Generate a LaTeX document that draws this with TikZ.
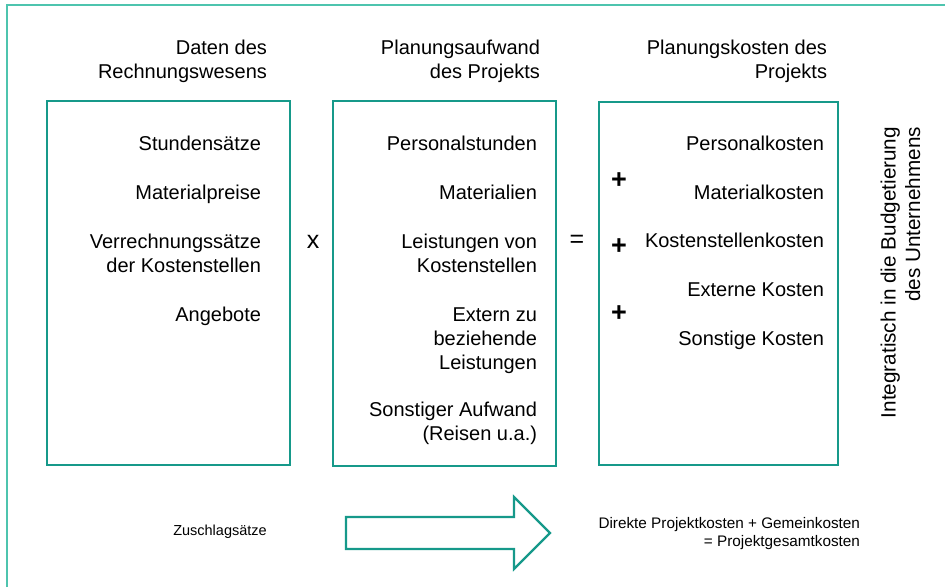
\documentclass[tikz,border=0pt]{standalone}
\usepackage{fontspec}
\setmainfont{Liberation Sans}
\definecolor{boxteal}{HTML}{16998A}
\definecolor{frameteal}{HTML}{4EC4AE}
\begin{document}
\begin{tikzpicture}[x=1pt,y=-1pt,
  every node/.style={inner sep=0pt, outer sep=0pt},
  bigtxt/.style={font=\fontsize{20}{24}\selectfont, align=right, anchor=base east},
  smalltxt/.style={font=\fontsize{14.5}{18}\selectfont},
  opsign/.style={font=\fontsize{25}{26}\selectfont},
  plussign/.style={font=\fontsize{27}{28}\selectfont\bfseries},
  colbox/.style={draw=boxteal, line width=2.4pt},
  frameline/.style={draw=frameteal, line width=2pt}]
\useasboundingbox (0,0) rectangle (945,587);
% outer frame
\draw[frameline] (6.5,587) -- (6.5,5) -- (945,5);
% boxes
\node[colbox, minimum width=243pt, minimum height=364pt, anchor=north west] (b1) at (47,101) {};
\node[colbox, minimum width=223pt, minimum height=365pt, anchor=north west] (b2) at (333,101) {};
\node[colbox, minimum width=239pt, minimum height=363pt, anchor=north west] (b3) at (599,102) {};
% titles
\node[bigtxt] (t1) at (267,78) {Daten des\\Rechnungswesens};
\node[bigtxt] (t2) at (540,78) {Planungsaufwand\\des Projekts};
\node[bigtxt] (t3) at (827,78) {Planungskosten des\\Projekts};
% box 1
\node[bigtxt] (a1) at (261,150) {Stundensätze};
\node[bigtxt] (a2) at (261,199) {Materialpreise};
\node[bigtxt] (a3) at (261,272) {Verrechnungssätze\\der Kostenstellen};
\node[bigtxt] (a4) at (261,321) {Angebote};
% box 2
\node[bigtxt] (p1) at (537,150) {Personalstunden};
\node[bigtxt] (p2) at (537,199) {Materialien};
\node[bigtxt] (p3) at (537,272) {Leistungen von\\Kostenstellen};
\node[bigtxt] (p4) at (537,369) {Extern zu\\beziehende\\Leistungen};
\node[bigtxt] (p5) at (537,440) {Sonstiger Aufwand\\(Reisen u.a.)};
% box 3
\node[bigtxt] (k1) at (824,150) {Personalkosten};
\node[bigtxt] (k2) at (824,199) {Materialkosten};
\node[bigtxt] (k3) at (824,247) {Kostenstellenkosten};
\node[bigtxt] (k4) at (824,296) {Externe Kosten};
\node[bigtxt] (k5) at (824,345) {Sonstige Kosten};
% operators
\node[opsign] (mul) at (313,242) {x};
\node[opsign] (eq) at (577,241) {=};
\node[plussign] (pl1) at (619,181) {+};
\node[plussign] (pl2) at (619,247) {+};
\node[plussign] (pl3) at (619,314) {+};
% rotated text
\node[bigtxt, font=\fontsize{20.7}{24.5}\selectfont, rotate=90] (integ) at (920,127) {Integratisch in die Budgetierung\\des Unternehmens};
% bottom
\node[smalltxt] (zu) at (220,532) {Zuschlagsätze};
\draw[colbox, line width=2.2pt, line join=miter] (346,517) -- (514,517) -- (514,497) -- (550,533) -- (514,569) -- (514,549) -- (346,549) -- cycle;
\node[smalltxt, font=\fontsize{15.3}{18}\selectfont, align=right, anchor=base east] (dk) at (860,546) {Direkte Projektkosten + Gemeinkosten\\= Projektgesamtkosten};
\end{tikzpicture}
\end{document}
